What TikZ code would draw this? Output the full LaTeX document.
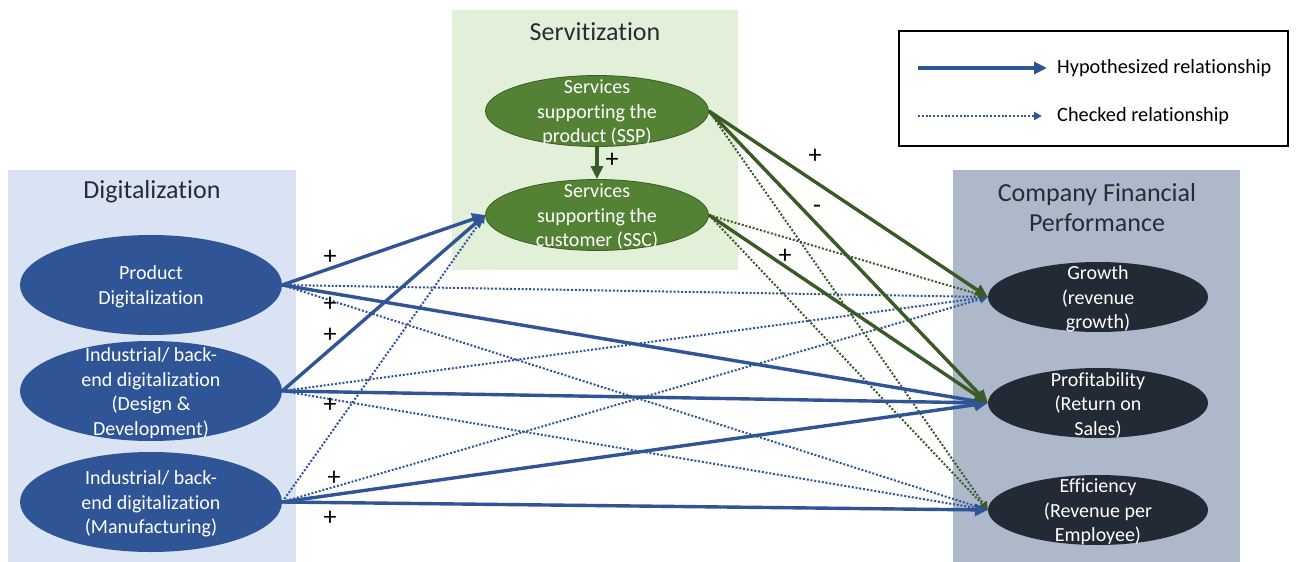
\documentclass[tikz,border=0pt]{standalone}
\usepackage{fontspec}
\setmainfont{Carlito}[Ligatures=NoCommon]
\usetikzlibrary{arrows.meta,shapes.geometric}
\definecolor{digblue}{HTML}{2F5597}
\definecolor{digbg}{HTML}{DAE3F3}
\definecolor{servbg}{HTML}{E2F0D9}
\definecolor{servfill}{HTML}{548235}
\definecolor{servline}{HTML}{3B5B26}
\definecolor{perfbg}{HTML}{ADB9CA}
\definecolor{perffill}{HTML}{222A35}
\definecolor{titlecol}{HTML}{262C36}
\tikzset{
  paneltitle/.style={text=titlecol, font=\fontsize{26}{30}\selectfont, align=center, inner sep=0},
  digell/.style={ellipse, fill=digblue, draw=none, minimum width=262pt, minimum height=100pt, inner sep=0},
  servell/.style={ellipse, fill=servfill, draw=servline, line width=0.8pt, minimum width=223pt, minimum height=71pt, inner sep=0},
  perfell/.style={ellipse, fill=perffill, draw=none, minimum width=220pt, minimum height=70pt, inner sep=0},
  elltext/.style={text=white, font=\fontsize{20}{24.5}\selectfont, align=center, inner sep=0, yshift=-2pt},
  hyp/.style={line width=3.4pt, draw=#1, -{Triangle[length=13pt,width=12pt]}},
  chk/.style={line width=2pt, draw=#1, dash pattern=on 2pt off 1.8pt, -{Triangle[length=8pt,width=8pt]}},
  sign/.style={font=\fontsize{26}{26}\selectfont, inner sep=0, text=black},
  legtext/.style={font=\fontsize{20.3}{24}\selectfont, anchor=west, inner sep=0, text=black}
}
\begin{document}
\begin{tikzpicture}[x=1pt,y=-1pt]
\useasboundingbox (0,0) rectangle (1301,562);
\fill[white] (0,0) rectangle (1301,562);

% group panels
\fill[digbg] (8,170) rectangle (296,562);
\fill[servbg] (452,10) rectangle (738,270);
\fill[perfbg] (953,170) rectangle (1240,562);
\node[paneltitle] (tdig) at (152,192) {Digitalization};
\node[paneltitle] (tserv) at (595,32) {Servitization};
\node[paneltitle] (tperf) at (1097,208) {Company Financial\\Performance};

% legend
\draw[line width=1.6pt, black] (899,31) rectangle (1288,146);
\coordinate (lh1) at (918,68);
\coordinate (lh2) at (1047,68);
\coordinate (lc1) at (918,116);
\coordinate (lc2) at (1042,116);
\draw[hyp=digblue] (lh1) -- (lh2);
\draw[chk=digblue] (lc1) -- (lc2);
\node[legtext] (lht) at (1057,68) {Hypothesized relationship};
\node[legtext] (lct) at (1057,116) {Checked relationship};

% digitalization constructs
\node[digell] (pd) at (151,285) {};
\node[elltext] (pdt) at (pd) {Product\\Digitalization};
\node[digell] (dd) at (151,391) {};
\node[elltext] (ddt) at (dd) {Industrial/ back-\\end digitalization\\(Design \&\\Development)};
\node[digell] (mf) at (151,502) {};
\node[elltext] (mft) at (mf) {Industrial/ back-\\end digitalization\\(Manufacturing)};

% servitization constructs
\node[servell] (ssp) at (597,111) {};
\node[elltext] (sspt) at (ssp) {Services\\supporting the\\product (SSP)};
\node[servell] (ssc) at (597,215) {};
\node[elltext] (ssct) at (ssc) {Services\\supporting the\\customer (SSC)};

% performance constructs
\node[perfell] (gr) at (1098,297) {};
\node[elltext] (grt) at (gr) {Growth\\(revenue\\growth)};
\node[perfell] (pr) at (1098,403) {};
\node[elltext] (prt) at (pr) {Profitability\\(Return on\\Sales)};
\node[perfell] (ef) at (1098,510) {};
\node[elltext] (eft) at (ef) {Efficiency\\(Revenue per\\Employee)};

% checked relationships
\draw[chk=digblue] (pd.east) -- (gr.west);
\draw[chk=digblue] (pd.east) -- (ef.west);
\draw[chk=digblue] (dd.east) -- (gr.west);
\draw[chk=digblue] (dd.east) -- (ef.west);
\draw[chk=digblue] (mf.east) -- (gr.west);
\draw[chk=digblue] (mf.east) -- (ssc.west);
\draw[chk=servline] (ssp.east) -- (ef.west);
\draw[chk=servline] (ssc.east) -- (gr.west);
\draw[chk=servline] (ssc.east) -- (ef.west);

% hypothesized relationships
\draw[hyp=digblue] (pd.east) -- (ssc.west);
\draw[hyp=digblue] (pd.east) -- (pr.west);
\draw[hyp=digblue] (dd.east) -- (ssc.west);
\draw[hyp=digblue] (dd.east) -- (pr.west);
\draw[hyp=digblue] (mf.east) -- (pr.west);
\draw[hyp=digblue] (mf.east) -- (ef.west);
\draw[hyp=servline] (ssp.south) -- (ssc.north);
\draw[hyp=servline] (ssp.east) -- (gr.west);
\draw[hyp=servline] (ssp.east) -- (pr.west);
\draw[hyp=servline] (ssc.east) -- (pr.west);

% signs
\node[sign] (s1) at (330,257) {+};
\node[sign] (s2) at (330,304) {+};
\node[sign] (s3) at (330,335) {+};
\node[sign] (s4) at (330,405) {+};
\node[sign] (s5) at (334,478) {+};
\node[sign] (s6) at (330,518) {+};
\node[sign] (s7) at (612,160) {+};
\node[sign] (s8) at (815,156) {+};
\node[sign] (s9) at (817,209) {-};
\node[sign] (s10) at (785,256) {+};
\end{tikzpicture}
\end{document}
